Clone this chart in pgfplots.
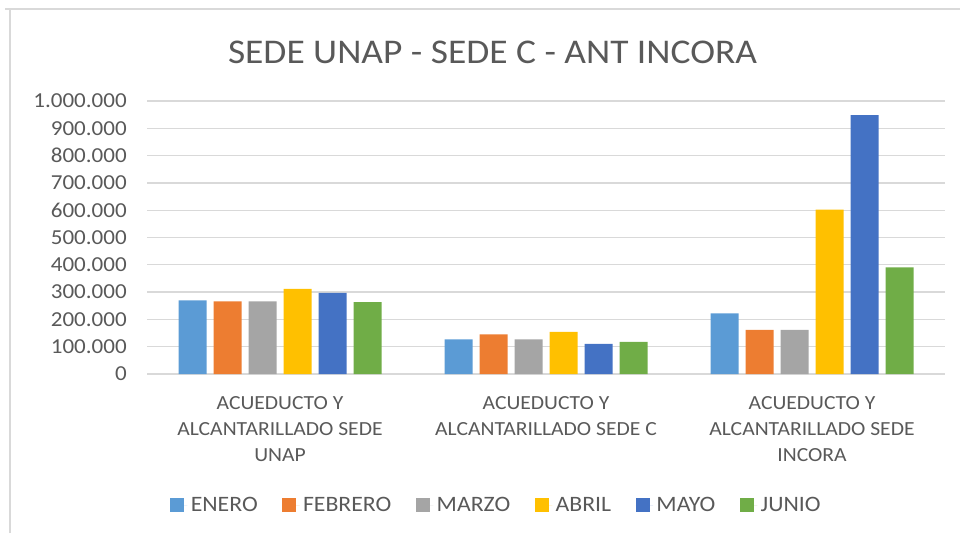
\documentclass[border=0pt]{standalone}
\usepackage{pgfplots}
\pgfplotsset{compat=1.18}
\usepackage{fontspec}
\setmainfont{Carlito}[FakeStretch=1.08]

\definecolor{cEne}{HTML}{5B9BD5}
\definecolor{cFeb}{HTML}{ED7D31}
\definecolor{cMar}{HTML}{A5A5A5}
\definecolor{cAbr}{HTML}{FFC000}
\definecolor{cMay}{HTML}{4472C4}
\definecolor{cJun}{HTML}{70AD47}
\definecolor{txt}{HTML}{595959}
\definecolor{gridc}{HTML}{D9D9D9}

\pgfplotsset{sqleg/.style={legend image code/.code={%
  \fill[##1] (0pt,-5.25pt) rectangle (10.5pt,5.25pt);
  \path (0pt,0pt) -- (13pt,0pt);}}}

\begin{document}
\begin{tikzpicture}
\path[use as bounding box] (0pt,0pt) rectangle (720pt,399.75pt);
\draw[gridc, line width=2pt] (7.5pt,0pt) -- (7.5pt,393pt);
\draw[gridc, line width=2pt] (3.75pt,393pt) -- (720pt,393pt);

\begin{axis}[
  at={(110.25pt,119.25pt)}, anchor=south west,
  scale only axis,
  width=598.5pt, height=204.75pt,
  ybar, bar width=21pt,
  xmin=-0.5, xmax=2.5,
  ymin=0, ymax=1000000,
  ytick={0,100000,...,1000000},
  xtick={0,1,2},
  xticklabels={{ACUEDUCTO Y\\ALCANTARILLADO SEDE\\UNAP},{ACUEDUCTO Y\\ALCANTARILLADO SEDE C},{ACUEDUCTO Y\\ALCANTARILLADO SEDE\\INCORA}},
  axis line style={draw=none},
  major tick length=0pt,
  xmajorgrids=false,
  ymajorgrids=true,
  y grid style={gridc, line width=1pt},
  scaled y ticks=false,
  /pgf/number format/.cd, fixed, precision=0, 1000 sep={.}, assume math mode=true,
  /pgfplots/.cd,
  yticklabel style={font=\fontsize{16}{19}\selectfont, text=txt, inner sep=0pt, xshift=-15pt},
  xticklabel style={font=\fontsize{15}{19.5}\selectfont, text=txt, align=center, inner sep=0pt, anchor=north, yshift=-17pt},
  legend columns=6,
  legend style={at={(0.4386,-0.48)}, anchor=center, draw=none, fill=none,
    font=\fontsize{16.5}{19}\selectfont, text=txt,
    /tikz/every even column/.append style={column sep=16pt},
    nodes={inner sep=2.5pt}},
]
\addplot[fill=cEne, draw=none, bar shift=-65.625pt, sqleg] coordinates {(0,270000) (1,127000) (2,222000)};
\addplot[fill=cFeb, draw=none, bar shift=-39.375pt, sqleg] coordinates {(0,266000) (1,145000) (2,162000)};
\addplot[fill=cMar, draw=none, bar shift=-13.125pt, sqleg] coordinates {(0,266000) (1,127000) (2,162000)};
\addplot[fill=cAbr, draw=none, bar shift=13.125pt, sqleg] coordinates {(0,312000) (1,154000) (2,602000)};
\addplot[fill=cMay, draw=none, bar shift=39.375pt, sqleg] coordinates {(0,297000) (1,110000) (2,948000)};
\addplot[fill=cJun, draw=none, bar shift=65.625pt, sqleg] coordinates {(0,263000) (1,118000) (2,391000)};
\legend{ENERO,FEBRERO,MARZO,ABRIL,MAYO,JUNIO}
\end{axis}

\node[text=txt, font=\fontsize{26}{30}\selectfont] at (369.4pt,360.75pt) {SEDE UNAP - SEDE C - ANT INCORA};
\end{tikzpicture}
\end{document}
